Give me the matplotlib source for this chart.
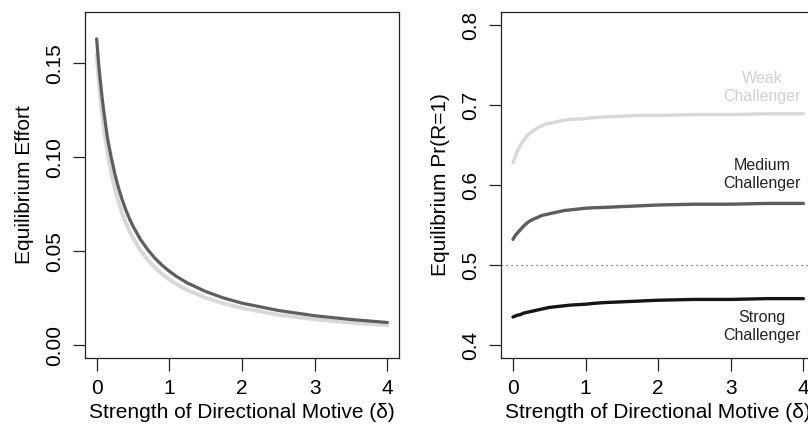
import matplotlib
matplotlib.use("Agg")
import matplotlib.pyplot as plt

plt.rcParams['font.family'] = ['Liberation Sans', 'DejaVu Sans']

# ---- data ----
delta = [0, 0.025, 0.05, 0.075, 0.1, 0.125, 0.15, 0.2, 0.25, 0.3, 0.35, 0.4,
         0.45, 0.5, 0.6, 0.7, 0.8, 0.9, 1.0, 1.1, 1.25, 1.5, 1.75, 2.0, 2.5,
         3.0, 3.5, 4.0]

effort_weak = [0.155, 0.1427, 0.132, 0.1232, 0.115, 0.1084, 0.102, 0.0918,
               0.0833, 0.0762, 0.0703, 0.0652, 0.0608, 0.0570, 0.0506, 0.0455,
               0.0413, 0.0378, 0.0349, 0.0324, 0.0292, 0.0252, 0.0221, 0.0197,
               0.0161, 0.0137, 0.0119, 0.0105]
effort_medium = [0.163, 0.151, 0.141, 0.1318, 0.124, 0.1169, 0.110, 0.100,
                 0.0912, 0.0838, 0.0775, 0.0721, 0.0674, 0.0633, 0.0564,
                 0.0509, 0.0463, 0.0425, 0.0393, 0.0365, 0.0330, 0.0285,
                 0.0250, 0.0223, 0.0184, 0.0156, 0.0136, 0.0120]

pr_weak = [0.628, 0.634, 0.640, 0.645, 0.649, 0.653, 0.656, 0.662, 0.666,
           0.669, 0.672, 0.674, 0.676, 0.677, 0.679, 0.681, 0.682, 0.6825,
           0.683, 0.684, 0.685, 0.686, 0.687, 0.687, 0.688, 0.688, 0.689, 0.689]
pr_medium = [0.532, 0.536, 0.539, 0.5415, 0.544, 0.5465, 0.549, 0.553, 0.556,
             0.558, 0.560, 0.562, 0.563, 0.564, 0.566, 0.568, 0.569, 0.570,
             0.571, 0.5715, 0.572, 0.573, 0.574, 0.575, 0.576, 0.576, 0.577,
             0.577]
pr_strong = [0.435, 0.436, 0.437, 0.4375, 0.438, 0.439, 0.440, 0.441, 0.442,
             0.443, 0.444, 0.445, 0.446, 0.447, 0.448, 0.449, 0.450, 0.4505,
             0.451, 0.452, 0.453, 0.454, 0.455, 0.456, 0.457, 0.457, 0.458,
             0.458]

x_ticks = [0, 1, 2, 3, 4]
effort_ticks = [0.00, 0.05, 0.10, 0.15]
effort_tick_labels = ["0.00", "0.05", "0.10", "0.15"]
pr_ticks = [0.4, 0.5, 0.6, 0.7, 0.8]
pr_tick_labels = ["0.4", "0.5", "0.6", "0.7", "0.8"]

labels = ["Weak\nChallenger", "Medium\nChallenger", "Strong\nChallenger"]
label_x = [3.43, 3.43, 3.43]
label_y = [0.722, 0.613, 0.423]

xlabel = "Strength of Directional Motive (δ)"

# ---- styling ----
W, H = 808, 430
fig = plt.figure(figsize=(W / 100, H / 100), dpi=100)

c_weak = "#d8d8d8"
c_med = "#5e5e5e"
c_strong = "#151515"
fs = 15


def style(ax):
    for s in ax.spines.values():
        s.set_linewidth(0.9)
        s.set_color("#222222")
    ax.tick_params(axis='both', length=9, width=0.9, labelsize=fs,
                   color="#222222", pad=6)
    ax.tick_params(axis='y', labelrotation=90)
    for t in ax.get_yticklabels():
        t.set_va('center')


ax1 = fig.add_axes([85 / W, (H - 358) / H, 314 / W, 346 / H])
ax1.plot(delta, effort_weak, color=c_weak, lw=2.8, solid_capstyle='round',
         solid_joinstyle='round')
ax1.plot(delta, effort_medium, color=c_med, lw=2.3, solid_capstyle='round',
         solid_joinstyle='round')
ax1.set_xlim(-0.16, 4.16)
ax1.set_ylim(-0.0069, 0.1773)
ax1.set_xticks(x_ticks)
ax1.set_yticks(effort_ticks)
ax1.set_yticklabels(effort_tick_labels)
ax1.set_xlabel(xlabel, fontsize=fs, labelpad=4)
ax1.set_ylabel("Equilibrium Effort", fontsize=fs, labelpad=8)
style(ax1)

ax2 = fig.add_axes([501 / W, (H - 358) / H, 314 / W, 346 / H])
ax2.axhline(0.5, color="#333333", lw=0.8, linestyle=(0, (1, 3.5)))
for ys, col in zip([pr_weak, pr_medium, pr_strong], [c_weak, c_med, c_strong]):
    ax2.plot(delta, ys, color=col, lw=2.4, solid_capstyle='round',
             solid_joinstyle='round')
ax2.set_xlim(-0.165, 4.16)
ax2.set_ylim(0.3838, 0.8162)
ax2.set_xticks(x_ticks)
ax2.set_yticks(pr_ticks)
ax2.set_yticklabels(pr_tick_labels)
ax2.set_xlabel(xlabel, fontsize=fs, labelpad=4)
ax2.set_ylabel("Equilibrium Pr(R=1)", fontsize=fs, labelpad=8)
style(ax2)

label_colors = ["#d0d0d0", "#222222", "#222222"]
for txt, lx, ly, col in zip(labels, label_x, label_y, label_colors):
    ax2.text(lx, ly, txt, ha='center', va='center', fontsize=11.5,
             color=col, linespacing=1.2)

fig.savefig("out.png", dpi=100)
